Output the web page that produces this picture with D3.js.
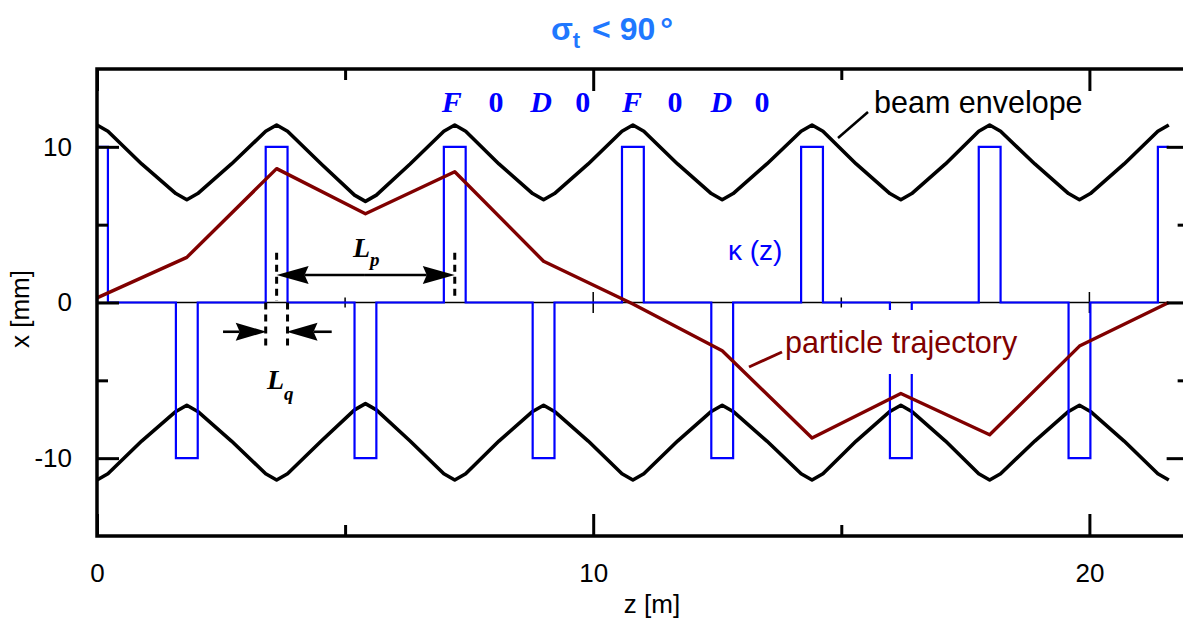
<!DOCTYPE html>
<html>
<head>
<meta charset="utf-8">
<script src="https://cdn.jsdelivr.net/npm/d3@7"></script>
<style>
  body { margin: 0; background: #fff; }
  svg { display: block; }
</style>
</head>
<body>
<svg id="chart" width="1183" height="619"></svg>
<script>
// quadrupole lattice: centres [m], focusing strength (plotted at +/-10)
var quadZ = [0, 1.81, 3.62, 5.41, 7.21, 9.0, 10.8, 12.6, 14.41, 16.2, 17.99, 19.8, 21.6];
var quadK = [10, -10, 10, -10, 10, -10, 10, -10, 10, -10, 10, -10, 10];
var quadLen = 0.44;
var zEnd = 21.6;

// beam envelope (upper half, lower half is the mirror)
var envZ = [0, 0.22, 0.90, 1.59, 1.81, 2.03, 2.71, 3.40, 3.62, 3.84, 4.52, 5.19, 5.41, 5.63, 6.31, 6.99,
  7.21, 7.43, 8.10, 8.78, 9.00, 9.22, 9.90, 10.58, 10.80, 11.02, 11.70, 12.38, 12.60, 12.82, 13.50, 14.19,
  14.41, 14.63, 15.30, 15.98, 16.20, 16.42, 17.10, 17.77, 17.99, 18.21, 18.90, 19.58, 19.80, 20.02, 20.70,
  21.38, 21.60];
var envX = [11.4, 11.0, 8.9, 7.0, 6.6, 7.0, 8.9, 11.0, 11.4, 11.0, 8.9, 6.9, 6.5, 6.9, 8.9, 11.0,
  11.4, 11.0, 8.9, 7.0, 6.6, 7.0, 8.9, 11.0, 11.4, 11.0, 8.9, 7.0, 6.6, 7.0, 8.9, 11.0,
  11.4, 11.0, 8.9, 7.0, 6.6, 7.0, 8.9, 11.0, 11.4, 11.0, 8.9, 7.0, 6.6, 7.0, 8.9,
  11.0, 11.4];

// particle trajectory
var trajZ = [0, 1.81, 3.62, 5.41, 7.21, 9.0, 10.8, 12.6, 14.41, 16.2, 17.99, 19.8, 21.6];
var trajX = [0.3, 2.9, 8.6, 5.7, 8.4, 2.65, -0.1, -3.1, -8.7, -5.85, -8.5, -2.8, 0.0];

var zMajor = [0, 10, 20], zMinor = [5, 15];
var xMajor = [-10, 0, 10], xMinor = [-5, 5];

var cellLabels = ["F", "0", "D", "0", "F", "0", "D", "0"];
var cellLabelZ = [7.15, 8.04, 8.95, 9.79, 10.78, 11.65, 12.58, 13.40];

var svg = d3.select("#chart");
var sans = "Arial, 'Liberation Sans', sans-serif";
var serif = "'Times New Roman', 'Liberation Serif', serif";
var blue = "#0000ff", dred = "#800000";

var x = d3.scaleLinear().domain([0, 22]).range([97, 97 + 22 * 49.62]);
var y = d3.scaleLinear().domain([-15, 15]).range([536, 69]);

var line = d3.line().x(function(d) { return x(d[0]); }).y(function(d) { return y(d[1]); });

// zero line with cross ticks
svg.append("line")
  .attr("x1", x(0)).attr("x2", x(22)).attr("y1", y(0)).attr("y2", y(0))
  .attr("stroke", "#000").attr("stroke-width", 1.5);
svg.selectAll(".zc").data(zMajor.concat(zMinor)).enter().append("line")
  .attr("x1", function(d) { return x(d); }).attr("x2", function(d) { return x(d); })
  .attr("y1", function(d) { return y(0) - (zMajor.indexOf(d) >= 0 ? 10.5 : 5); })
  .attr("y2", function(d) { return y(0) + (zMajor.indexOf(d) >= 0 ? 10.5 : 5); })
  .attr("stroke", "#000").attr("stroke-width", 1.5);

// envelope
var envUp = envZ.map(function(z, i) { return [z, envX[i]]; });
var envLo = envZ.map(function(z, i) { return [z, -envX[i]]; });
[envUp, envLo].forEach(function(pts) {
  svg.append("path").attr("d", line(pts))
    .attr("fill", "none").attr("stroke", "#000").attr("stroke-width", 3.6)
    .attr("stroke-linejoin", "round");
});

// kappa(z) step function
var kpts = [[0, 0]];
quadZ.forEach(function(zc, i) {
  var lo = Math.max(0, zc - quadLen / 2), hi = Math.min(zEnd, zc + quadLen / 2);
  kpts.push([lo, 0], [lo, quadK[i]], [hi, quadK[i]]);
  if (i < quadZ.length - 1) kpts.push([hi, 0]);
});
svg.append("path").attr("d", line(kpts))
  .attr("fill", "none").attr("stroke", blue).attr("stroke-width", 2.2);

// label box for particle trajectory
svg.append("rect").attr("x", 783).attr("y", 310).attr("width", 240).attr("height", 64).attr("fill", "#fff");

// trajectory
svg.append("path").attr("d", line(trajZ.map(function(z, i) { return [z, trajX[i]]; })))
  .attr("fill", "none").attr("stroke", dred).attr("stroke-width", 3.4)
  .attr("stroke-linejoin", "round");

// text labels
svg.append("text").attr("x", 785).attr("y", 353).attr("fill", dred)
  .style("font-family", sans).style("font-size", "30.5px").text("particle trajectory");
svg.append("line").attr("x1", 749).attr("y1", 367).attr("x2", 782).attr("y2", 352)
  .attr("stroke", dred).attr("stroke-width", 3);

svg.append("text").attr("x", 874).attr("y", 113).attr("fill", "#000")
  .style("font-family", sans).style("font-size", "30.5px").text("beam envelope");
svg.append("line").attr("x1", 838).attr("y1", 138).attr("x2", 868).attr("y2", 112)
  .attr("stroke", "#000").attr("stroke-width", 2.5);

svg.append("text").attr("x", 728).attr("y", 260).attr("fill", blue)
  .style("font-family", sans).style("font-size", "28px").text("\u03ba (z)");

svg.selectAll(".cell").data(cellLabels).enter().append("text")
  .attr("x", function(d, i) { return x(cellLabelZ[i]); }).attr("y", 112)
  .attr("text-anchor", "middle").attr("fill", blue)
  .style("font-family", serif).style("font-weight", "bold").style("font-size", "30px")
  .style("font-style", function(d) { return d === "0" ? "normal" : "italic"; })
  .text(function(d) { return d; });

// Lp and Lq markers
function dash(z, v0, v1) {
  svg.append("line").attr("x1", x(z)).attr("x2", x(z)).attr("y1", y(v0)).attr("y2", y(v1))
    .attr("stroke", "#000").attr("stroke-width", 3).attr("stroke-dasharray", "7,5");
}
function arrow(z0, z1, v, hl, hw) {
  var xa = x(z0), xb = x(z1), yy = y(v), dir = xb > xa ? 1 : -1;
  var xBack = xb - dir * hl, xNotch = xb - dir * (hl - 4);
  svg.append("line").attr("x1", xa).attr("x2", xNotch).attr("y1", yy).attr("y2", yy)
    .attr("stroke", "#000").attr("stroke-width", 2.6);
  svg.append("path")
    .attr("d", "M" + xb + "," + yy + "L" + xBack + "," + (yy - hw) + "L" + xNotch + "," + yy +
      "L" + xBack + "," + (yy + hw) + "Z")
    .attr("fill", "#000");
}
dash(3.62, 3.2, 0.1);
dash(7.21, 3.2, 0.3);
dash(3.40, 0, -3.0);
dash(3.84, 0, -3.0);
arrow(5.4, 3.62, 1.77, 32, 9);
arrow(5.4, 7.21, 1.77, 32, 9);
arrow(2.54, 3.42, -1.88, 31, 9);
arrow(4.73, 3.82, -1.88, 31, 9);

var lp = svg.append("text").attr("x", 353).attr("y", 257)
  .style("font-family", serif).style("font-weight", "bold").style("font-style", "italic").style("font-size", "28px");
lp.append("tspan").text("L");
lp.append("tspan").attr("dy", 9).style("font-size", "19px").text("p");
var lq = svg.append("text").attr("x", 267).attr("y", 389)
  .style("font-family", serif).style("font-weight", "bold").style("font-style", "italic").style("font-size", "28px");
lq.append("tspan").text("L");
lq.append("tspan").attr("dy", 11).style("font-size", "19px").text("q");

// axes
function styleAxis(g) {
  g.select(".domain").remove();
  g.selectAll(".tick line").attr("stroke", "#000").attr("stroke-width", 3);
  g.selectAll(".tick text").attr("fill", "#000").style("font-family", sans).style("font-size", "26px");
}
var fmt = function(d) { return String(d); };
var h = y(-15);
svg.append("g").attr("transform", "translate(0," + h + ")")
  .call(d3.axisBottom(x).tickValues(zMajor).tickSize(-22).tickPadding(28).tickFormat(fmt)).call(styleAxis);
svg.append("g").attr("transform", "translate(0," + h + ")")
  .call(d3.axisBottom(x).tickValues(zMinor).tickSize(-11).tickFormat("")).call(styleAxis);
svg.append("g").attr("transform", "translate(0," + y(15) + ")")
  .call(d3.axisTop(x).tickValues(zMajor).tickSize(-22).tickFormat("")).call(styleAxis);
svg.append("g").attr("transform", "translate(0," + y(15) + ")")
  .call(d3.axisTop(x).tickValues(zMinor).tickSize(-11).tickFormat("")).call(styleAxis);
svg.append("g").attr("transform", "translate(" + x(0) + ",0)")
  .call(d3.axisLeft(y).tickValues(xMajor).tickSize(-22).tickPadding(25).tickFormat(fmt)).call(styleAxis);
svg.append("g").attr("transform", "translate(" + x(0) + ",0)")
  .call(d3.axisLeft(y).tickValues(xMinor).tickSize(-11).tickFormat("")).call(styleAxis);
svg.append("g").attr("transform", "translate(" + x(22) + ",0)")
  .call(d3.axisRight(y).tickValues(xMajor).tickSize(-22).tickFormat("")).call(styleAxis);
svg.append("g").attr("transform", "translate(" + x(22) + ",0)")
  .call(d3.axisRight(y).tickValues(xMinor).tickSize(-11).tickFormat("")).call(styleAxis);

svg.append("rect").attr("x", x(0)).attr("y", y(15))
  .attr("width", x(22) - x(0)).attr("height", y(-15) - y(15))
  .attr("fill", "none").attr("stroke", "#000").attr("stroke-width", 3.5);

svg.append("text").attr("x", 652).attr("y", 613).attr("text-anchor", "middle")
  .style("font-family", sans).style("font-size", "26px").text("z [m]");
svg.append("text").attr("transform", "translate(29,309) rotate(-90)").attr("text-anchor", "middle")
  .style("font-family", sans).style("font-size", "26px").text("x [mm]");

// title
var title = svg.append("text").attr("x", 612).attr("y", 40).attr("text-anchor", "middle")
  .attr("fill", "#1f78ff").style("font-family", sans).style("font-weight", "bold").style("font-size", "32px");
title.append("tspan").text("\u03c3");
title.append("tspan").attr("dy", 8).style("font-size", "22px").text("t");
title.append("tspan").attr("dy", -8).attr("dx", 3).text(" < 90");
title.append("tspan").attr("dx", 5).text("\u00b0");
</script>
</body>
</html>
